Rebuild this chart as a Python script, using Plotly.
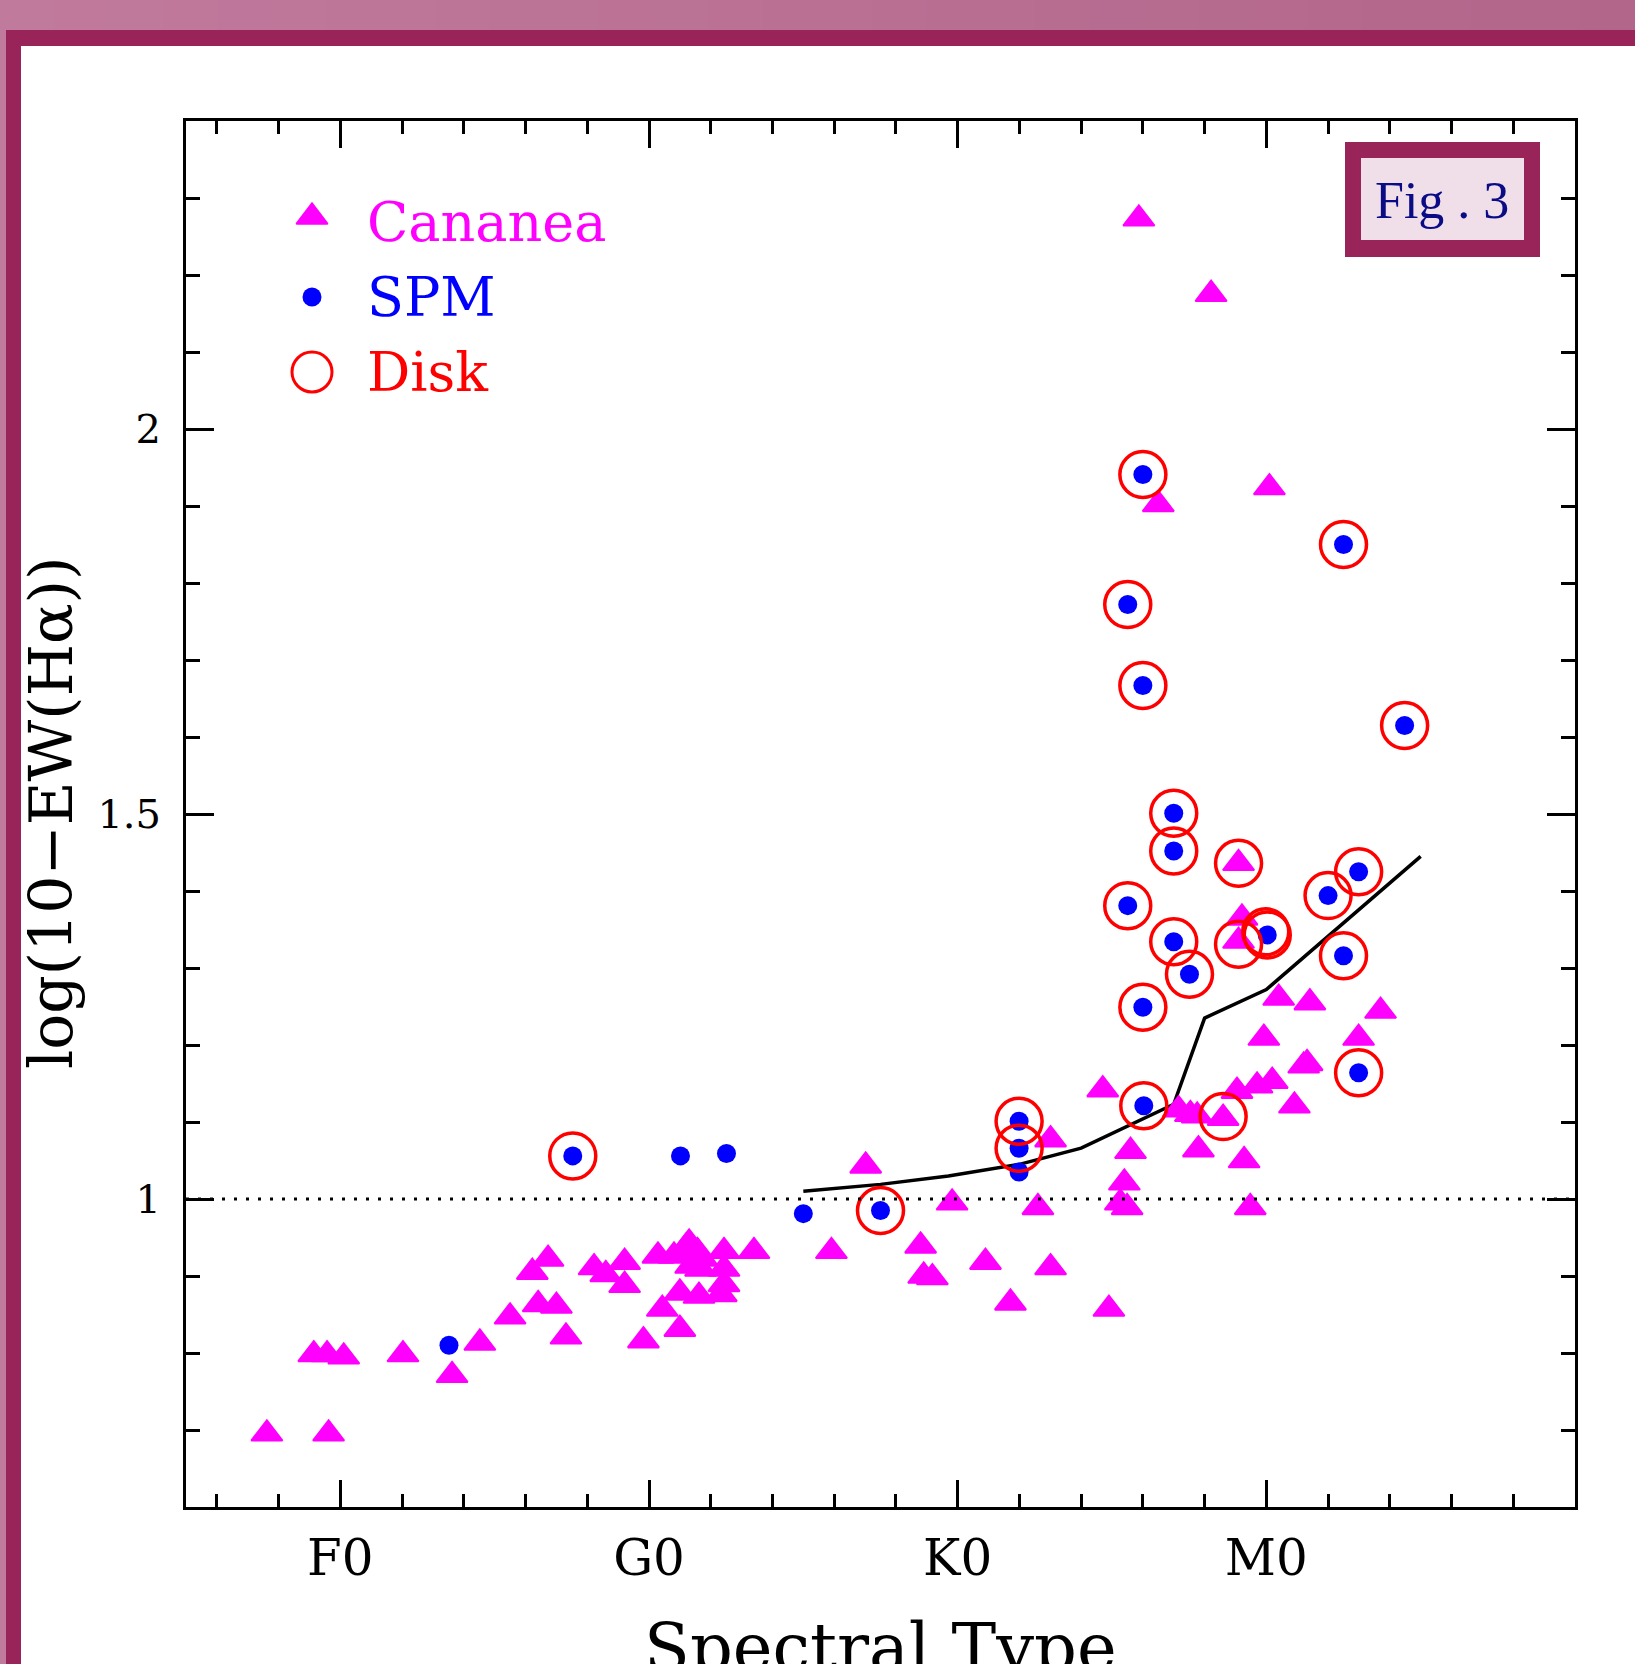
import plotly.graph_objects as go

# ---------------- data ----------------
cananea_x = [-2.38, -0.38, -0.86, -0.43, 0.11, 2.03, 3.62, 4.52, 5.50, 6.22,
             6.73, 6.41, 7.00, 7.31, 8.22, 8.60, 9.21, 9.21, 9.82, 10.29,
             10.43, 11.00, 11.00, 10.81, 11.19, 11.30, 11.57, 11.73, 11.35, 11.67,
             11.62, 12.43, 12.43, 12.43, 12.34, 13.40, 15.91, 17.02, 18.80, 18.90,
             19.18, 19.82, 20.90, 21.71, 22.60, 23.01, 23.01, 24.70, 24.90, 25.40,
             25.27, 25.49, 25.60, 25.87, 26.50, 27.16, 27.54, 27.76, 27.80, 28.21,
             28.60, 29.10, 29.21, 29.10, 29.28, 29.48, 29.05, 29.70, 29.92, 30.10,
             30.19, 30.40, 30.91, 31.21, 31.32, 31.41, 32.99, 33.70]
cananea_y = [0.695, 0.695, 0.798, 0.798, 0.795, 0.798, 0.771, 0.813, 0.847, 0.905,
             0.922, 0.863, 0.861, 0.821, 0.911, 0.902, 0.918, 0.888, 0.816, 0.926,
             0.857, 0.831, 0.878, 0.926, 0.937, 0.943, 0.932, 0.922, 0.913, 0.909,
             0.874, 0.932, 0.909, 0.889, 0.876, 0.932, 0.932, 1.043, 0.939, 0.900,
             0.898, 0.995, 0.918, 0.865, 0.989, 1.077, 0.911, 1.142, 0.857, 1.021,
             0.995, 0.989, 1.062, 2.273, 1.902, 1.116, 1.110, 1.108, 1.064, 2.175,
             1.105, 1.436, 1.365, 1.335, 1.050, 0.989, 1.140, 1.147, 1.209, 1.924,
             1.153, 1.261, 1.121, 1.173, 1.176, 1.255, 1.209, 1.244]

spm_x = [3.52, 7.53, 11.02, 12.51, 15.00, 17.50, 21.99, 21.99, 21.99, 25.51,
         25.51, 26.00, 26.00, 26.00, 26.03, 27.00, 27.00, 27.00, 27.51, 30.03,
         32.00, 32.50, 32.50, 32.99, 32.99, 34.48]
spm_y = [0.810, 1.056, 1.056, 1.059, 0.981, 0.985, 1.101, 1.066, 1.035, 1.772,
         1.381, 1.941, 1.667, 1.249, 1.121, 1.501, 1.452, 1.334, 1.292, 1.343,
         1.394, 1.850, 1.316, 1.425, 1.164, 1.615]

disk_x = [7.53, 17.50, 21.99, 21.99, 25.51, 25.51, 26.00, 26.00, 26.00, 26.03,
          27.00, 27.00, 27.00, 27.51, 29.10, 29.10, 28.60, 30.03, 29.98, 32.00,
          32.50, 32.50, 32.99, 32.99, 34.48]
disk_y = [1.056, 0.985, 1.101, 1.066, 1.772, 1.381, 1.941, 1.667, 1.249, 1.121,
          1.501, 1.452, 1.334, 1.292, 1.436, 1.331, 1.107, 1.343, 1.347, 1.394,
          1.850, 1.316, 1.425, 1.164, 1.615]

curve_x = [15.0, 17.5, 19.7, 22.0, 24.0, 25.7, 27.0, 28.0, 30.0, 35.0]
curve_y = [1.010, 1.019, 1.030, 1.045, 1.066, 1.099, 1.123, 1.235, 1.272, 1.445]

x_tick_vals = [0, 10, 20, 30]
x_tick_text = ["F0", "G0", "K0", "M0"]
y_tick_vals = [1, 1.5, 2]
y_tick_text = ["1", "1.5", "2"]
x_range = [-5, 40]
y_range = [0.6, 2.4]
ref_level = 1.0

# ---------------- geometry ----------------
W, H = 1635, 1664
L, R, T, B = 186, 1575, 121, 1507


def px(X):
    return (X - L) / (R - L)


def py(Y):
    return (B - Y) / (B - T)


def dx(X):
    return x_range[0] + (x_range[1] - x_range[0]) * px(X)


def dy(Y):
    return y_range[0] + (y_range[1] - y_range[0]) * py(Y)


MAG, BLUE, RED = "#ff00ff", "#0000ff", "#ff0000"
SERIF = "DejaVu Serif"

fig = go.Figure()

fig.add_trace(go.Scatter(x=curve_x, y=curve_y, mode="lines",
                         line=dict(color="black", width=3.5), showlegend=False))
fig.add_trace(go.Scatter(x=cananea_x, y=cananea_y, mode="markers", name="Cananea",
                         marker=dict(symbol="triangle-up", size=27, color=MAG,
                                     line=dict(color=MAG, width=2)),
                         showlegend=False))
fig.add_trace(go.Scatter(x=spm_x, y=spm_y, mode="markers", name="SPM",
                         marker=dict(symbol="circle", size=19, color=BLUE,
                                     line=dict(width=0)),
                         showlegend=False))
fig.add_trace(go.Scatter(x=disk_x, y=disk_y, mode="markers", name="Disk",
                         marker=dict(symbol="circle-open", size=46, color=RED,
                                     line=dict(color=RED, width=3.5)),
                         showlegend=False))

# legend keys (manual, as in the reference)
fig.add_trace(go.Scatter(x=[dx(312)], y=[dy(217)], mode="markers", showlegend=False,
                         marker=dict(symbol="triangle-up", size=27, color=MAG,
                                     line=dict(color=MAG, width=2))))
fig.add_trace(go.Scatter(x=[dx(312)], y=[dy(297)], mode="markers", showlegend=False,
                         marker=dict(symbol="circle", size=19, color=BLUE)))
fig.add_trace(go.Scatter(x=[dx(312)], y=[dy(372)], mode="markers", showlegend=False,
                         marker=dict(symbol="circle-open", size=40, color=RED,
                                     line=dict(color=RED, width=3))))

shapes = []
# top gradient band
c0 = (192, 122, 156)
c1 = (178, 102, 138)
n = 30
for i in range(n):
    t = i / (n - 1)
    col = "rgb(%d,%d,%d)" % tuple(round(a + (b - a) * t) for a, b in zip(c0, c1))
    shapes.append(dict(type="rect", xref="paper", yref="paper",
                       x0=px(W * i / n), x1=px(W * (i + 1) / n + 1), y0=py(30), y1=py(0),
                       fillcolor=col, line=dict(width=0), layer="below"))
# left light strip
shapes.append(dict(type="rect", xref="paper", yref="paper", x0=px(0), x1=px(6),
                   y0=py(H), y1=py(30), fillcolor="rgb(192,122,156)",
                   line=dict(width=0), layer="below"))
# dark frame bands
DARK = "#98245a"
shapes.append(dict(type="rect", xref="paper", yref="paper", x0=px(6), x1=px(W),
                   y0=py(46), y1=py(30), fillcolor=DARK, line=dict(width=0), layer="below"))
shapes.append(dict(type="rect", xref="paper", yref="paper", x0=px(6), x1=px(21),
                   y0=py(H), y1=py(46), fillcolor=DARK, line=dict(width=0), layer="below"))
# Fig. 3 box
shapes.append(dict(type="rect", xref="paper", yref="paper", x0=px(1345), x1=px(1540),
                   y0=py(257), y1=py(142), fillcolor=DARK, line=dict(width=0), layer="above"))
shapes.append(dict(type="rect", xref="paper", yref="paper", x0=px(1361), x1=px(1524),
                   y0=py(240), y1=py(158), fillcolor="#f0dfe8", line=dict(width=0), layer="above"))
# dotted reference line
shapes.append(dict(type="line", xref="x", yref="y", x0=x_range[0], x1=x_range[1],
                   y0=ref_level, y1=ref_level,
                   line=dict(color="black", width=3, dash="3px,9px"), layer="above"))

annotations = [
    dict(text="Fig . 3", xref="paper", yref="paper", x=px(1442), y=py(200),
         xanchor="center", yanchor="middle", showarrow=False,
         font=dict(family="Liberation Serif", size=52, color="#0b0b86")),
    dict(text="Cananea", xref="paper", yref="paper", x=px(365), y=py(222),
         xanchor="left", yanchor="middle", showarrow=False,
         font=dict(family=SERIF, size=54, color=MAG)),
    dict(text="SPM", xref="paper", yref="paper", x=px(365), y=py(297),
         xanchor="left", yanchor="middle", showarrow=False,
         font=dict(family=SERIF, size=54, color=BLUE)),
    dict(text="Disk", xref="paper", yref="paper", x=px(365), y=py(372),
         xanchor="left", yanchor="middle", showarrow=False,
         font=dict(family=SERIF, size=54, color=RED)),
    dict(text="log(10\u2212EW(H\u03b1))", xref="paper", yref="paper", x=px(51), y=py(813),
         xanchor="center", yanchor="middle", textangle=-90, showarrow=False,
         font=dict(family=SERIF, size=60, color="black")),
    dict(text="Spectral Type", xref="paper", yref="paper", x=px(880), y=py(1648),
         xanchor="center", yanchor="middle", showarrow=False,
         font=dict(family=SERIF, size=67, color="black")),
]

axis_common = dict(showline=True, linewidth=3, linecolor="black", mirror="ticks",
                   ticks="inside", tickwidth=3, tickcolor="black",
                   showgrid=False, zeroline=False)

fig.update_layout(
    width=W, height=H, autosize=False,
    margin=dict(l=L, r=W - R, t=T, b=H - B, pad=0),
    paper_bgcolor="white", plot_bgcolor="white",
    shapes=shapes, annotations=annotations, showlegend=False,
    xaxis=dict(range=x_range, tickmode="array", tickvals=x_tick_vals, ticktext=x_tick_text,
               ticklen=27, ticklabelstandoff=5,
               tickfont=dict(family=SERIF, size=50, color="black"),
               minor=dict(ticks="inside", dtick=2, tick0=0, ticklen=13, tickwidth=3,
                          tickcolor="black", showgrid=False),
               **axis_common),
    yaxis=dict(range=y_range, tickmode="array", tickvals=y_tick_vals, ticktext=y_tick_text,
               ticklen=28, ticklabelstandoff=14,
               tickfont=dict(family=SERIF, size=40, color="black"),
               minor=dict(ticks="inside", dtick=0.1, tick0=0, ticklen=14, tickwidth=3,
                          tickcolor="black", showgrid=False),
               **axis_common),
)

fig.write_html("out.html", config={"displayModeBar": False},
               post_script="document.body.style.margin='0px';document.body.style.padding='0px';")
